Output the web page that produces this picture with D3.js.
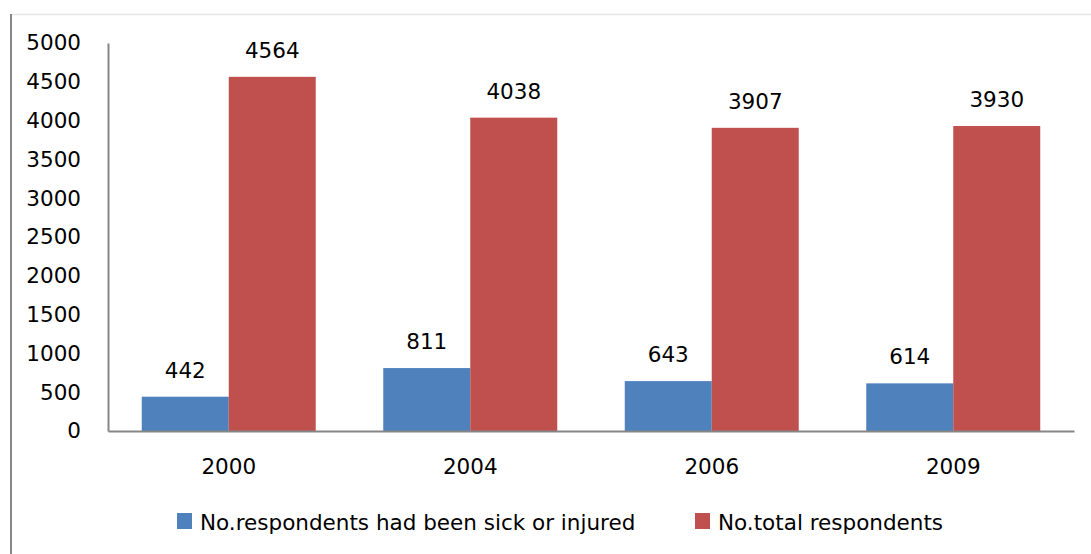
<!DOCTYPE html>
<html>
<head>
<meta charset="utf-8">
<script src="https://cdn.jsdelivr.net/npm/d3@7.9.0/dist/d3.min.js"></script>
<style>
  body { margin: 0; background: #fff; }
  svg { display: block; font-family: "DejaVu Sans", sans-serif; }
</style>
</head>
<body>
<svg width="1091" height="554"></svg>
<script>
// data
const years = ['2000', '2004', '2006', '2009'];
const sick = [442, 811, 643, 614];
const total = [4564, 4038, 3907, 3930];
const seriesNames = ['No.respondents had been sick or injured', 'No.total respondents'];
const colors = ['#4F81BD', '#C0504D'];
const yTicks = [0, 500, 1000, 1500, 2000, 2500, 3000, 3500, 4000, 4500, 5000];

const svg = d3.select('svg');
const fs = 21.5;

// outer frame (only top and left visible)
svg.append('line').attr('x1', 11).attr('x2', 1091).attr('y1', 14.5).attr('y2', 14.5)
  .attr('stroke', '#e6e6e6').attr('stroke-width', 1.5);
svg.append('line').attr('x1', 11).attr('x2', 11).attr('y1', 14).attr('y2', 554)
  .attr('stroke', '#888').attr('stroke-width', 2);

const plotL = 108, plotR = 1074, plotT = 43, plotB = 431;

let x = d3.scaleBand().domain(years).range([plotL, plotR]).paddingInner(0).paddingOuter(0);
let inner = d3.scaleBand().domain([0, 1]).range([0, x.bandwidth()]).paddingOuter(0.388).paddingInner(0);
let y = d3.scaleLinear().domain([0, 5000]).range([plotB, plotT]);

// bars
const series = [sick, total];
series.forEach((vals, s) => {
  svg.append('g').selectAll('rect')
    .data(vals)
    .join('rect')
    .attr('x', (d, i) => x(years[i]) + inner(s))
    .attr('y', d => y(d))
    .attr('width', inner.bandwidth())
    .attr('height', d => y(0) - y(d))
    .attr('fill', colors[s]);

  svg.append('g').selectAll('text')
    .data(vals)
    .join('text')
    .attr('x', (d, i) => x(years[i]) + inner(s) + inner.bandwidth() / 2)
    .attr('y', d => y(d) - 19)
    .attr('text-anchor', 'middle')
    .attr('font-size', fs)
    .attr('fill', '#000')
    .text(d => d);
});

// y axis
const yAxis = svg.append('g').attr('transform', `translate(${plotL},0)`)
  .call(d3.axisLeft(y).tickValues(yTicks).tickFormat(d3.format('d')).tickSize(0).tickPadding(27));
yAxis.select('.domain').attr('stroke', '#868686').attr('stroke-width', 2);
yAxis.selectAll('text').attr('font-size', fs).attr('fill', '#000')
  .attr('font-family', '"DejaVu Sans", sans-serif');

// x axis
const xAxis = svg.append('g').attr('transform', `translate(0,${plotB})`)
  .call(d3.axisBottom(x).tickSize(0).tickPadding(28));
xAxis.select('.domain').attr('stroke', '#868686').attr('stroke-width', 2);
xAxis.selectAll('text').attr('font-size', fs).attr('fill', '#000')
  .attr('font-family', '"DejaVu Sans", sans-serif');

// legend
const legendX = [177, 695];
seriesNames.forEach((name, s) => {
  const g = svg.append('g').attr('transform', `translate(${legendX[s]},513)`);
  g.append('rect').attr('width', 15).attr('height', 16).attr('fill', colors[s]);
  g.append('text').attr('x', 23).attr('y', 17).attr('font-size', fs).attr('fill', '#000').text(name);
});
</script>
</body>
</html>
